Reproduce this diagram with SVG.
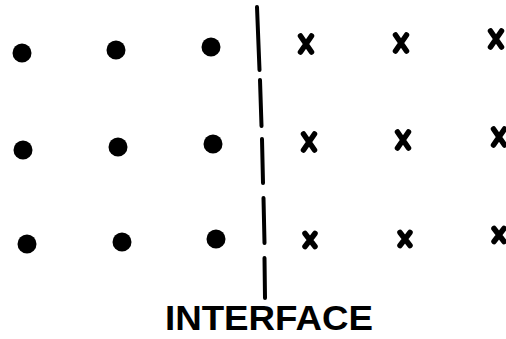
<svg xmlns="http://www.w3.org/2000/svg" width="506" height="339" viewBox="0 0 506 339">
<style>
.dot{fill:#000}
.x{stroke:#000;stroke-width:5.5;stroke-linecap:round;fill:none}
.iface{stroke:#000;stroke-width:4;stroke-linecap:round;fill:none}
.lbl{font-family:"Liberation Sans",Arial,sans-serif;font-weight:bold;font-size:35px;fill:#000}
</style>
<defs>
<path id="xm" d="M-5.5,-8 Q0,0 5.5,8 M5.5,-8 Q0,0 -5.5,8"/>
<path id="xs" d="M-5,-6.5 L5,6.5 M5,-6.5 L-5,6.5"/>
</defs>
<rect width="506" height="339" fill="#fff"/>
<g id="interface">
<path class="iface" d="M257,7 L259.5,70 M260,80 L261.5,126 M262,139 L263,183 M263.5,198 L264.5,243 M264.5,258 L265,298"/>
</g>
<g id="dots">
<g id="d11"><circle class="dot" cx="22" cy="53" r="9.5"/></g>
<g id="d12"><circle class="dot" cx="116" cy="50" r="9.5"/></g>
<g id="d13"><circle class="dot" cx="211" cy="47" r="9.5"/></g>
<g id="d21"><circle class="dot" cx="23" cy="150" r="9.5"/></g>
<g id="d22"><circle class="dot" cx="118" cy="147" r="9.5"/></g>
<g id="d23"><circle class="dot" cx="213" cy="144" r="9.5"/></g>
<g id="d31"><circle class="dot" cx="27" cy="244" r="9.5"/></g>
<g id="d32"><circle class="dot" cx="122" cy="242" r="9.5"/></g>
<g id="d33"><circle class="dot" cx="216" cy="239" r="9.5"/></g>
</g>
<g id="crosses">
<g id="x11"><use href="#xm" class="x" x="306" y="44"/></g>
<g id="x12"><use href="#xm" class="x" x="401" y="43"/></g>
<g id="x13"><use href="#xm" class="x" x="496" y="39"/></g>
<g id="x21"><use href="#xm" class="x" x="309" y="142"/></g>
<g id="x22"><use href="#xm" class="x" x="403" y="140"/></g>
<g id="x23"><use href="#xm" class="x" x="499" y="137"/></g>
<g id="x31"><use href="#xs" class="x" x="310" y="240"/></g>
<g id="x32"><use href="#xs" class="x" x="405" y="239"/></g>
<g id="x33"><use href="#xs" class="x" x="499" y="235"/></g>
</g>
<g id="label">
<text class="lbl" x="165" y="330" textLength="208" lengthAdjust="spacingAndGlyphs">INTERFACE</text>
</g>
</svg>
